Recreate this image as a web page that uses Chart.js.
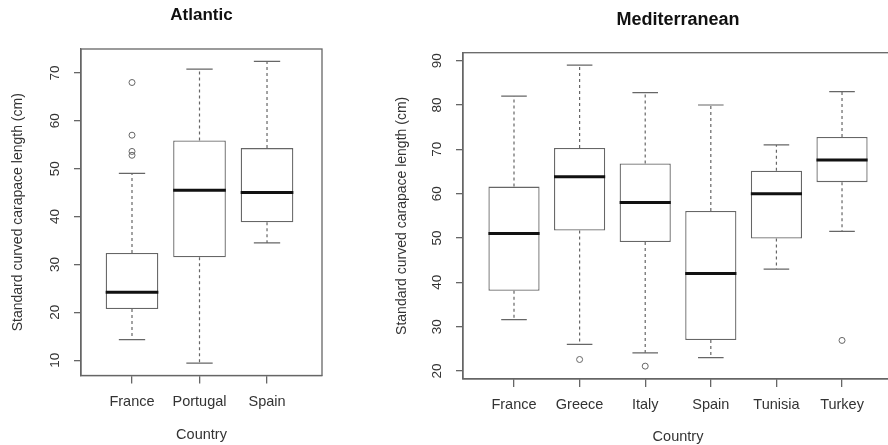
<!DOCTYPE html>
<html>
<head>
<meta charset="utf-8">
<script src="https://cdn.jsdelivr.net/npm/chart.js@4/dist/chart.umd.min.js"></script>
<style>
  html, body { margin: 0; padding: 0; background: #fff; overflow: hidden; width: 888px; height: 445px; }
  canvas { position: absolute; top: 0; }
  #atlantic { left: 0; }
  #mediterranean { left: 360px; }
</style>
</head>
<body>
<canvas id="atlantic" width="360" height="445"></canvas>
<canvas id="mediterranean" width="540" height="445"></canvas>
<script>
// Atlantic
const atlCountries = ["France", "Portugal", "Spain"];
const atlLower  = [14.3, 9.4, 34.5];
const atlQ1     = [20.7, 31.5, 38.8];
const atlMedian = [24.2, 45.5, 45.0];
const atlQ3     = [32.4, 55.9, 54.3];
const atlUpper  = [49.0, 70.8, 72.4];
const atlOutlierCountry = ["France", "France", "France", "France"];
const atlOutlierValue   = [68.0, 57.0, 53.6, 52.8];
const atlTicks = [10, 20, 30, 40, 50, 60, 70];

// Mediterranean
const medCountries = ["France", "Greece", "Italy", "Spain", "Tunisia", "Turkey"];
const medLower  = [31.6, 26.0, 24.1, 23.0, 43.0, 51.5];
const medQ1     = [38.1, 51.7, 49.1, 27.0, 49.9, 62.6];
const medMedian = [51.0, 63.8, 58.0, 42.0, 60.0, 67.6];
const medQ3     = [61.6, 70.3, 66.8, 56.1, 65.2, 72.8];
const medUpper  = [82.0, 89.0, 82.8, 80.0, 71.0, 83.0];
const medOutlierCountry = ["Greece", "Italy", "Turkey"];
const medOutlierValue   = [22.6, 21.1, 26.9];
const medTicks = [20, 30, 40, 50, 60, 70, 80, 90];

const yTitle = "Standard curved carapace length (cm)";
const LINE = "#666";
const TEXT = "#333";

// whiskers + staples under the boxes, medians and frame on top
function boxPlugin(lower, median, upper) {
  return {
    id: "boxPlot",
    beforeDatasetsDraw(chart) {
      const { ctx, scales: { y } } = chart;
      const bars = chart.getDatasetMeta(0).data;
      const q1 = chart.data.datasets[0].data.map(d => d.y[0]);
      const q3 = chart.data.datasets[0].data.map(d => d.y[1]);
      ctx.save();
      ctx.strokeStyle = LINE;
      ctx.lineWidth = 1.2;
      bars.forEach((bar, i) => {
        const cx = bar.x;
        const cap = bar.width / 4;
        ctx.setLineDash([3, 3]);
        ctx.beginPath();
        ctx.moveTo(cx, y.getPixelForValue(q3[i]));
        ctx.lineTo(cx, y.getPixelForValue(upper[i]));
        ctx.moveTo(cx, y.getPixelForValue(q1[i]));
        ctx.lineTo(cx, y.getPixelForValue(lower[i]));
        ctx.stroke();
        ctx.setLineDash([]);
        ctx.beginPath();
        [upper[i], lower[i]].forEach(v => {
          const py = y.getPixelForValue(v);
          ctx.moveTo(cx - cap, py);
          ctx.lineTo(cx + cap, py);
        });
        ctx.stroke();
      });
      ctx.restore();
    },
    afterDatasetsDraw(chart) {
      const { ctx, chartArea: a, scales: { y } } = chart;
      const bars = chart.getDatasetMeta(0).data;
      ctx.save();
      ctx.strokeStyle = "#111";
      ctx.lineWidth = 3;
      bars.forEach((bar, i) => {
        const py = y.getPixelForValue(median[i]);
        ctx.beginPath();
        ctx.moveTo(bar.x - bar.width / 2, py);
        ctx.lineTo(bar.x + bar.width / 2, py);
        ctx.stroke();
      });
      ctx.strokeStyle = LINE;
      ctx.lineWidth = 1.3;
      ctx.strokeRect(a.left, a.top, a.right - a.left, a.bottom - a.top);
      ctx.restore();
    }
  };
}

function makeBoxChart(id, d, lay) {
  const boxes = d.countries.map((c, i) => ({ x: i + 1, y: [d.q1[i], d.q3[i]] }));
  const outliers = d.outCountry.map((c, k) => ({ x: d.countries.indexOf(c) + 1, y: d.outValue[k] }));
  return new Chart(document.getElementById(id), {
    type: "bar",
    data: {
      datasets: [
        {
          data: boxes,
          backgroundColor: "#fff",
          borderColor: LINE,
          borderWidth: 1.3,
          borderSkipped: false,
          barPercentage: 0.78,
          categoryPercentage: 1,
        },
        {
          type: "scatter",
          data: outliers,
          pointStyle: "circle",
          pointRadius: 3,
          borderColor: LINE,
          borderWidth: 1,
          backgroundColor: "rgba(0,0,0,0)",
        },
      ],
    },
    options: {
      responsive: false,
      animation: false,
      events: [],
      layout: { padding: { left: 0, right: lay.padRight, top: 0, bottom: 0 } },
      scales: {
        x: {
          type: "linear",
          min: lay.xMin,
          max: lay.xMax,
          offset: false,
          afterBuildTicks: s => { s.ticks = d.countries.map((c, i) => ({ value: i + 1 })); },
          afterFit: s => { s.height = 445 - lay.bottom; },
          ticks: {
            autoSkip: false,
            maxRotation: 0,
            padding: lay.xTickPad,
            color: TEXT,
            font: { family: "'Liberation Sans', Arial, sans-serif", size: 14.5 },
            callback: v => d.countries[Math.round(v) - 1],
          },
          grid: { drawOnChartArea: false, tickLength: 8, color: LINE, lineWidth: 1.3, offset: false },
          border: { color: LINE, width: 1.3 },
          title: {
            display: true,
            text: "Country",
            color: TEXT,
            font: { family: "'Liberation Sans', Arial, sans-serif", size: 14.5, lineHeight: 1.1 },
            padding: { top: 0, bottom: lay.xTitlePad },
          },
        },
        y: {
          min: lay.yMin,
          max: lay.yMax,
          afterBuildTicks: s => { s.ticks = d.ticks.map(v => ({ value: v })); },
          afterFit: s => { s.width = lay.left; },
          ticks: {
            minRotation: 90,
            maxRotation: 90,
            crossAlign: "center",
            padding: 11,
            color: TEXT,
            font: { family: "'Liberation Sans', Arial, sans-serif", size: 13.5 },
          },
          grid: { drawOnChartArea: false, tickLength: 7, color: LINE, lineWidth: 1.3 },
          border: { color: LINE, width: 1.3 },
          title: {
            display: true,
            text: yTitle,
            color: TEXT,
            font: { family: "'Liberation Sans', Arial, sans-serif", size: 14, lineHeight: 1.2 },
            padding: { top: lay.yTitlePad, bottom: 0 },
          },
        },
      },
      plugins: {
        legend: { display: false },
        tooltip: { enabled: false },
        title: {
          display: true,
          fullSize: false,
          text: d.title,
          color: "#111",
          font: { family: "'Liberation Sans', Arial, sans-serif", size: lay.titleSize, weight: "bold", lineHeight: 1.2 },
          padding: { top: lay.titleTop, bottom: lay.titleBottom },
        },
      },
    },
    plugins: [boxPlugin(d.lower, d.median, d.upper)],
  });
}

makeBoxChart("atlantic", {
  title: "Atlantic", countries: atlCountries, lower: atlLower, q1: atlQ1, median: atlMedian,
  q3: atlQ3, upper: atlUpper, outCountry: atlOutlierCountry, outValue: atlOutlierValue, ticks: atlTicks,
}, {
  left: 81, padRight: 38, bottom: 375.5, xMin: 0.2445, xMax: 3.8145, yMin: 6.8, yMax: 75.0,
  titleSize: 17, titleTop: 5, titleBottom: 23.6, xTickPad: 10, xTitlePad: 2, yTitlePad: 9.6,
});

makeBoxChart("mediterranean", {
  title: "Mediterranean", countries: medCountries, lower: medLower, q1: medQ1, median: medMedian,
  q3: medQ3, upper: medUpper, outCountry: medOutlierCountry, outValue: medOutlierValue, ticks: medTicks,
}, {
  left: 103, padRight: 7, bottom: 379, xMin: 0.2226, xMax: 6.777, yMin: 18.2, yMax: 91.8,
  titleSize: 18, titleTop: 9.5, titleBottom: 21.6, xTickPad: 9, xTitlePad: 0, yTitlePad: 33.6,
});
</script>
</body>
</html>
